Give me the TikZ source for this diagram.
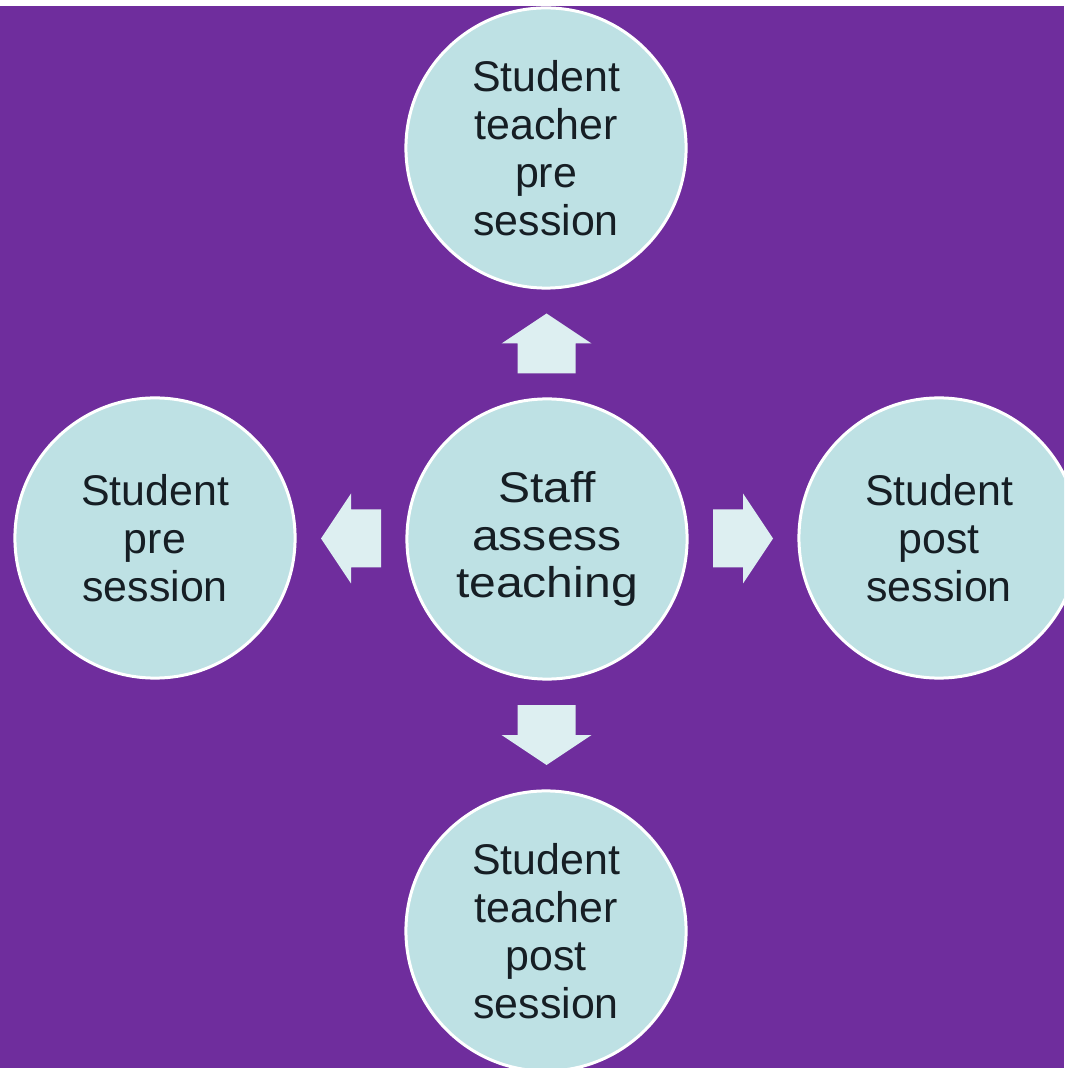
\documentclass[tikz,border=0pt]{standalone}
\usepackage{fontspec}
\setmainfont{Liberation Sans}
\newfontfamily\widefont[FakeStretch=1.12]{Liberation Sans}
\usetikzlibrary{calc}

\definecolor{bgPurple}{RGB}{111,45,157}
\definecolor{stageBlue}{RGB}{190,225,228}
\definecolor{flowBlue}{RGB}{221,239,241}
\definecolor{textDark}{RGB}{22,30,36}

\begin{document}
\begin{tikzpicture}[
        x=0.01cm, y=-0.01cm, % one unit = one pixel, y going down
        font=\fontsize{12.2}{13.6}\selectfont, % Arial-like text
        stage/.style={circle, fill=stageBlue, draw=white, line width=0.03cm,
        minimum size=2.8cm, inner sep=0pt, align=center, text=textDark}, % the circles
        hub/.style={stage, font=\widefont\fontsize{12.2}{13.6}\selectfont}, % wider text in the middle
        flowarrow/.pic={ % block arrow pointing along +x, centred on the origin
            \fill[flowBlue] (-30,-29) -- (0,-29) -- (0,-45) -- (30,0)
                -- (0,45) -- (0,29) -- (-30,29) -- cycle;
        },
    ]
        % --- Background ---
        \clip (0,0) rectangle (1064,1068);
        \fill[white] (0,0) rectangle (1064,1068);
        \fill[bgPurple] (0,6) rectangle (1064,1068);

        % --- Circles ---
        \node[hub] (staff) at (547,539) {Staff\\assess\\teaching};
        \node[stage] (teacherPre) at (546,148) {Student\\teacher\\pre\\session};
        \node[stage] (teacherPost) at (546,931) {Student\\teacher\\post\\session};
        \node[stage] (studentPre) at (155,538) {Student\\pre\\session};
        \node[stage] (studentPost) at (939,538) {Student\\post\\session};

        % --- Arrows out of the centre (y axis points down, so rotate=90 is up) ---
        \path ($(staff)!0.5!(teacherPre)$) pic[rotate=90] (toTeacherPre) {flowarrow};
        \path ($(staff)!0.5!(teacherPost)$) pic[rotate=-90] (toTeacherPost) {flowarrow};
        \path ($(staff)!0.5!(studentPre)$) pic[rotate=180] (toStudentPre) {flowarrow};
        \path ($(staff)!0.5!(studentPost)$) pic (toStudentPost) {flowarrow};

    \end{tikzpicture}
\end{document}
